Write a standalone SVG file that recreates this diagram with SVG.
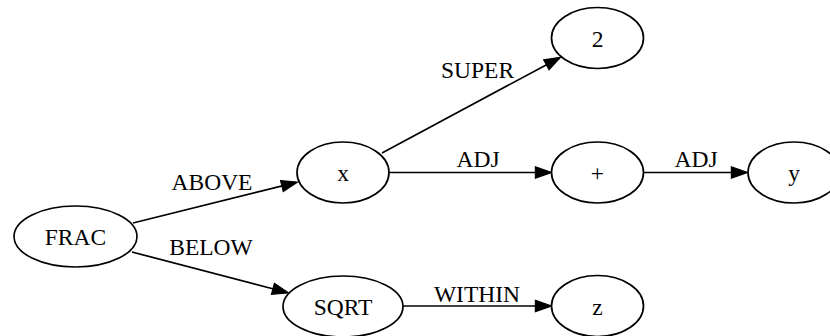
<svg xmlns="http://www.w3.org/2000/svg" width="830" height="336" viewBox="0 0 830 336">
<style>
.node ellipse{fill:none;stroke:#000;stroke-width:1.7}
.edge{fill:none;stroke:#000;stroke-width:1.7;marker-end:url(#arr)}
text{font-family:"Liberation Serif","Times New Roman",serif;font-size:23.5px;fill:#000;text-anchor:middle}
</style>
<defs>
<marker id="arr" markerUnits="userSpaceOnUse" markerWidth="18" markerHeight="14" refX="7" refY="6" orient="auto" viewBox="-1 -1 19 14">
<path d="M0,0 L17,6 L0,12 z" fill="#000" stroke="#000" stroke-width="1.2"/>
</marker>
</defs>
<rect width="830" height="336" fill="#fff"/>
<g id="connectors">
<path class="edge" d="M133,223 L288.3,184.4"/>
<path class="edge" d="M132,252 L279.3,290.5"/>
<path class="edge" d="M382,153 L552.2,61.7"/>
<path class="edge" d="M389,172.5 L542,172.5"/>
<path class="edge" d="M643,172.5 L738,172.5"/>
<path class="edge" d="M403,306 L542,306"/>
<text x="212" y="190">ABOVE</text>
<text x="211" y="255">BELOW</text>
<text x="477.5" y="78">SUPER</text>
<text x="478" y="167">ADJ</text>
<text x="696" y="167">ADJ</text>
<text x="477" y="302">WITHIN</text>
</g>
<g id="FRAC" class="node"><ellipse cx="75.5" cy="236.5" rx="61.5" ry="30.5"/><text x="75.5" y="245">FRAC</text></g>
<g id="x" class="node"><ellipse cx="343" cy="172.5" rx="46" ry="30.5"/><text x="343" y="181">x</text></g>
<g id="n2" class="node"><ellipse cx="597.5" cy="38" rx="46" ry="30.5"/><text x="597.5" y="46.5">2</text></g>
<g id="plus" class="node"><ellipse cx="597.5" cy="172.5" rx="46" ry="30.5"/><text x="597.5" y="181">+</text></g>
<g id="y" class="node"><ellipse cx="794" cy="172.5" rx="46" ry="30.5"/><text x="794" y="181">y</text></g>
<g id="SQRT" class="node"><ellipse cx="343" cy="306.5" rx="60" ry="30.5"/><text x="343" y="315">SQRT</text></g>
<g id="z" class="node"><ellipse cx="597.5" cy="306" rx="46" ry="30.5"/><text x="597.5" y="314.5">z</text></g>
</svg>
